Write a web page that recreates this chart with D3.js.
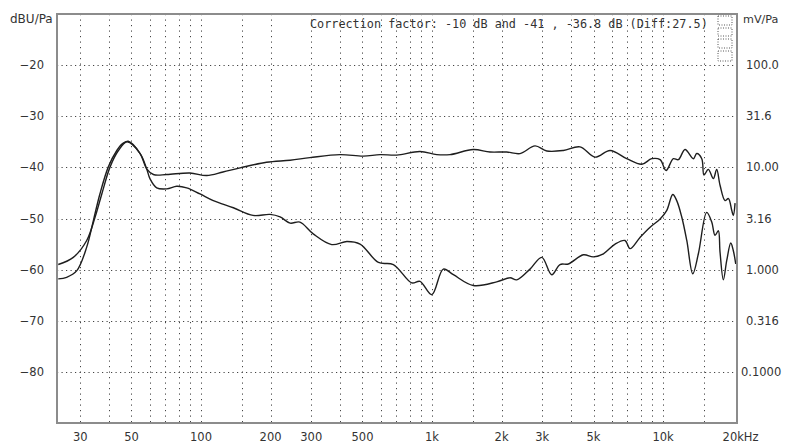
<!DOCTYPE html>
<html lang="en">
<head>
  <meta charset="UTF-8"/>
  <title>Frequency response</title>
  <script src="https://d3js.org/d3.v7.min.js"></script>
  <style>
    body { margin: 0; background: #fff; }
    text { font-family: "DejaVu Sans", Verdana, sans-serif; fill: #333; }
  </style>
</head>
<body>
<svg id="chart"></svg>
<script>
  // upper curve (flat one)
  var freqA = [24.1, 26.2, 29.0, 32.0, 34.2, 36.5, 39.7, 43.2, 45.6, 48.4, 54.5, 58.2, 62.2, 71.1, 89.6, 105.9, 124.5, 147.6, 192, 243, 296, 400, 504, 596, 703, 887, 1048, 1197, 1509, 1782, 2105, 2404, 2792, 3138, 3702, 4371, 5078, 5900, 6960, 8085, 8935, 9710, 10310, 11080, 11650, 12450, 13530, 13990, 14710, 15040, 15700, 16510, 17070, 17650, 18550, 19190, 19830, 20150, 20500];
  var dbA = [-61.8, -61.5, -60.2, -55.6, -50.4, -45.2, -39.9, -36.7, -35.4, -34.9, -37.3, -40.3, -41.4, -41.4, -41.1, -41.6, -40.9, -40.1, -39.0, -38.6, -38.1, -37.5, -37.8, -37.5, -37.6, -36.9, -37.5, -37.5, -36.5, -37.0, -37.0, -37.3, -35.8, -36.8, -36.7, -36.0, -38.0, -36.7, -38.3, -39.4, -38.3, -38.5, -40.6, -38.3, -38.5, -36.5, -38.3, -37.3, -38.3, -41.5, -40.4, -42.2, -40.4, -43.5, -46.5, -46.1, -48.4, -49.4, -47.0];

  // lower curve (dip around 1k)
  var freqB = [24.1, 28.0, 32.0, 34.8, 37.2, 40.4, 43.9, 47.8, 54.5, 58.2, 60.1, 64.3, 71.1, 78.5, 86.7, 99, 113, 138, 168, 199, 220, 243, 268, 306, 368, 428, 488, 586, 680, 817, 887, 997, 1119, 1237, 1509, 1905, 2176, 2327, 2656, 2985, 3297, 3581, 3890, 4520, 4993, 5519, 6200, 6846, 7194, 7950, 8790, 9710, 10380, 11020, 11460, 12050, 12670, 13450, 14220, 15450, 16250, 16790, 17350, 17650, 18240, 18870, 19640, 20150, 20640];
  var dbB = [-59.0, -57.6, -54.3, -49.7, -45.2, -39.9, -36.7, -35.0, -37.3, -40.3, -42.2, -44.0, -44.2, -43.7, -44.0, -45.2, -46.5, -47.9, -49.4, -49.2, -49.7, -50.9, -50.7, -53.0, -55.1, -54.5, -55.0, -58.6, -59.0, -62.6, -62.3, -64.9, -59.9, -61.0, -63.1, -62.4, -61.6, -62.0, -59.9, -57.6, -61.0, -59.0, -58.9, -57.1, -57.5, -56.9, -55.0, -54.3, -55.9, -53.7, -51.7, -50.1, -48.4, -45.3, -46.5, -49.7, -54.3, -60.8, -56.9, -48.8, -50.7, -53.3, -52.4, -56.6, -62.0, -58.2, -54.8, -56.3, -58.9];

  var gridFreqs = [30, 40, 50, 60, 70, 80, 90, 100, 150, 200, 300, 400, 500, 600, 700, 800, 900, 1000, 1500, 2000, 3000, 4000, 5000, 6000, 7000, 8000, 9000, 10000, 15000];
  var tickFreqs = [30, 50, 100, 200, 300, 500, 1000, 2000, 3000, 5000, 10000, 20000];
  var tickNames = ["30", "50", "100", "200", "300", "500", "1k", "2k", "3k", "5k", "10k", "20kHz"];
  var dbTicks = [-20, -30, -40, -50, -60, -70, -80];
  var mvLabels = ["100.0", "31.6", "10.00", "3.16", "1.000", "0.316", "0.1000"];

  var width = 789, height = 443;
  var pLeft = 57, pRight = 737, pTop = 14, pBottom = 423;

  var svg = d3.select("#chart").attr("width", width).attr("height", height);

  var x = d3.scaleLog().domain([23.8, 20900]).range([pLeft, pRight]);
  var y = d3.scaleLinear().domain([-90, -10]).range([pBottom, pTop]);

  // grid
  svg.selectAll(".vgrid").data(gridFreqs).enter().append("line")
    .attr("x1", function(d){ return Math.round(x(d)) + 0.5; })
    .attr("x2", function(d){ return Math.round(x(d)) + 0.5; })
    .attr("y1", pTop).attr("y2", pBottom)
    .attr("stroke", "#444").attr("stroke-width", 1)
    .attr("stroke-dasharray", "1.2,4.3");

  svg.selectAll(".hgrid").data(dbTicks).enter().append("line")
    .attr("x1", pLeft).attr("x2", pRight)
    .attr("y1", function(d){ return Math.round(y(d)) + 0.5; })
    .attr("y2", function(d){ return Math.round(y(d)) + 0.5; })
    .attr("stroke", "#444").attr("stroke-width", 1)
    .attr("stroke-dasharray", "1.2,3.3");

  // little dotted marker box top right
  var bx = [[718, 16, 14, 9], [718, 28, 14, 8], [718, 39, 14, 9], [718, 51, 14, 10]];
  svg.selectAll(".mk").data(bx).enter().append("rect")
    .attr("x", function(d){ return d[0]; }).attr("y", function(d){ return d[1]; })
    .attr("width", function(d){ return d[2]; }).attr("height", function(d){ return d[3]; })
    .attr("fill", "none").attr("stroke", "#555").attr("stroke-dasharray", "1,1.5");

  // curves
  var line = d3.line()
    .x(function(d){ return x(d[0]); })
    .y(function(d){ return y(d[1]); })
    .curve(d3.curveCatmullRom.alpha(0.5));

  [[freqA, dbA], [freqB, dbB]].forEach(function(s){
    svg.append("path")
      .datum(d3.zip(s[0], s[1]))
      .attr("d", line)
      .attr("fill", "none")
      .attr("stroke", "#1e1e1e")
      .attr("stroke-width", 1.4);
  });

  // frame
  svg.append("rect")
    .attr("x", pLeft).attr("y", pTop)
    .attr("width", pRight - pLeft).attr("height", pBottom - pTop)
    .attr("fill", "none").attr("stroke", "#8c8c8c").attr("stroke-width", 2);

  // left labels
  svg.selectAll(".ly").data(dbTicks).enter().append("text")
    .attr("x", 44).attr("y", function(d){ return y(d) + 4; })
    .attr("text-anchor", "end").attr("font-size", 11.5)
    .text(function(d){ return "\u2212" + Math.abs(d); });

  // right labels
  svg.selectAll(".ry").data(dbTicks).enter().append("text")
    .attr("x", function(d, i){ return i == 6 ? 741 : 746; })
    .attr("y", function(d){ return y(d) + 4; })
    .attr("font-size", 11.5)
    .text(function(d, i){ return mvLabels[i]; });

  // bottom labels
  svg.selectAll(".bx").data(tickFreqs).enter().append("text")
    .attr("x", function(d, i){ return i == tickFreqs.length - 1 ? x(d) - 10 : x(d); })
    .attr("y", 441)
    .attr("text-anchor", function(d, i){ return i == tickFreqs.length - 1 ? "start" : "middle"; })
    .attr("font-size", 11.5)
    .text(function(d, i){ return tickNames[i]; });

  svg.append("text").attr("x", 10).attr("y", 23).attr("font-size", 12).text("dBU/Pa");
  svg.append("text").attr("x", 743).attr("y", 23).attr("font-size", 11.2).text("mV/Pa");

  svg.append("text").attr("x", 310).attr("y", 28)
    .style("font-family", "'DejaVu Sans Mono', monospace").attr("font-size", 11.8)
    .text("Correction factor: -10 dB and -41 , -36.8 dB (Diff:27.5)");
</script>
</body>
</html>
